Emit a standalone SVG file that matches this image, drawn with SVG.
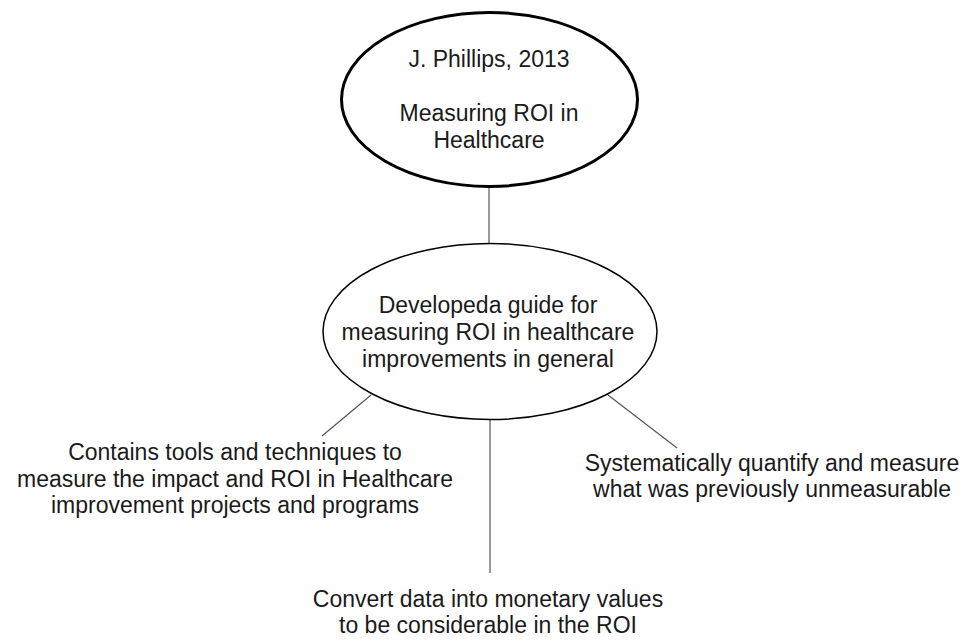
<svg xmlns="http://www.w3.org/2000/svg" width="969" height="642" viewBox="0 0 969 642">
<style>
text{font-family:"Liberation Sans",Arial,Helvetica,sans-serif;font-size:23px;fill:#1a1a1a;text-anchor:middle}
.edge{stroke:#555;stroke-width:1.2;fill:none}
</style>
<rect width="969" height="642" fill="#fff"/>
<g id="connectors">
<line class="edge" x1="489" y1="187" x2="489" y2="243"/>
<line class="edge" x1="371" y1="395" x2="322" y2="436"/>
<line class="edge" x1="608" y1="395" x2="677" y2="448"/>
<line class="edge" x1="490" y1="420" x2="490" y2="573"/>
</g>
<g id="source">
<ellipse cx="489.5" cy="99.5" rx="148" ry="87" fill="#fff" stroke="#000" stroke-width="3"/>
<text x="489" y="67">J. Phillips, 2013</text>
<text x="489" y="121">Measuring ROI in</text>
<text x="489" y="148">Healthcare</text>
</g>
<g id="guide">
<ellipse cx="490" cy="331.5" rx="167" ry="88" fill="#fff" stroke="#000" stroke-width="1.5"/>
<text x="488" y="313">Developeda guide for</text>
<text x="488" y="340">measuring ROI in healthcare</text>
<text x="488" y="367">improvements in general</text>
</g>
<g id="tools">
<text x="235" y="460">Contains tools and techniques to</text>
<text x="235" y="487">measure the impact and ROI in Healthcare</text>
<text x="235" y="513">improvement projects and programs</text>
</g>
<g id="quantify">
<text x="772" y="471">Systematically quantify and measure</text>
<text x="772" y="497">what was previously unmeasurable</text>
</g>
<g id="convert">
<text x="488" y="607">Convert data into monetary values</text>
<text x="488" y="633">to be considerable in the ROI</text>
</g>
</svg>
